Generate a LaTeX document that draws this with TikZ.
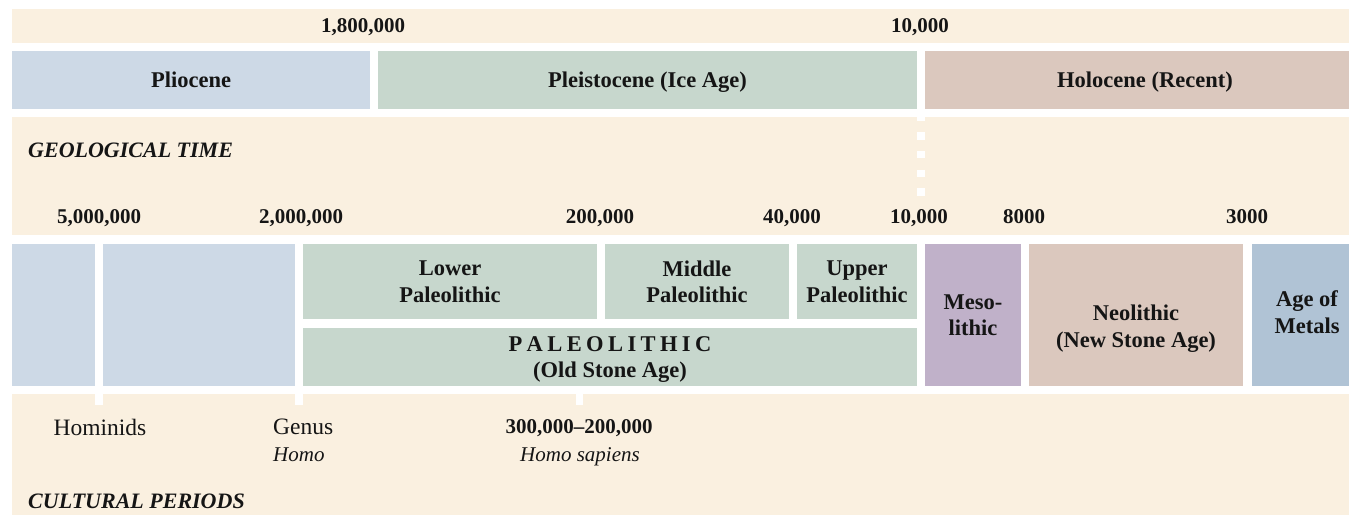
\documentclass[tikz,border=0pt]{standalone}
\usepackage{fontspec}
\setmainfont{Liberation Serif}
\definecolor{cream}{HTML}{FAF0E0}
\definecolor{pblue}{HTML}{CDD9E6}
\definecolor{pgreen}{HTML}{C7D7CD}
\definecolor{ppink}{HTML}{DBC8BE}
\definecolor{ppurple}{HTML}{C0B1C9}
\definecolor{psteel}{HTML}{B0C3D5}
\definecolor{ink}{HTML}{151515}
\newcommand\bx[7]{\node[boxst, fill=#6, minimum width={(#4-#2)*1pt}, minimum height={(#5-#3)*1pt}] (#1) at ({(#2+#4)/2},{(#3+#5)/2}) {#7};}
\newcommand\fnum{\fontsize{21}{26.5}\selectfont\bfseries}
\newcommand\fword{\fontsize{22.5}{26.5}\selectfont\bfseries}
\newcommand\fttl{\fontsize{22}{26.5}\selectfont\bfseries\itshape}
\newcommand\freg{\fontsize{23.5}{26.5}\selectfont}
\newcommand\fit{\fontsize{21}{26.5}\selectfont\itshape}
\newcommand\lsp{\hspace{4.4pt}}
\begin{document}
\begin{tikzpicture}[x=1pt,y=-1pt,
  every node/.style={text=ink, inner sep=0pt, text depth=0pt},
  boxst/.style={draw=none, align=center, font=\fword},
  num/.style={font=\fnum},
  lbl/.style={align=center, font=\fword},
  ttl/.style={anchor=west, font=\fttl}]
\useasboundingbox (0,0) rectangle (1349,515);
% bands
\bx{topband}{12}{9}{1349}{43}{cream}{}
\bx{geoband}{12}{117}{1349}{235}{cream}{}
\bx{botband}{12}{394}{1349}{515}{cream}{}
% geological epochs
\bx{plio}{12}{51}{370}{109}{pblue}{Pliocene}
\bx{pleist}{378}{51}{917}{109}{pgreen}{Pleistocene (Ice Age)}
\bx{holo}{925}{51}{1349}{109}{ppink}{}
\node[lbl] (holoT) at (1145,80) {Holocene (Recent)};
% dotted boundary
\coordinate (dA) at (921,113.5);
\coordinate (dB) at (921,196);
\draw[white, line width=8pt, dash pattern=on 7.5pt off 11.2pt] (dA) -- (dB);
% cultural periods
\bx{hom1}{12}{244}{95}{386}{pblue}{}
\bx{hom2}{103}{244}{295}{386}{pblue}{}
\bx{lower}{303}{244}{597}{319}{pgreen}{Lower\\Paleolithic}
\bx{middle}{605}{244}{789}{319}{pgreen}{Middle\\Paleolithic}
\bx{upper}{797}{244}{917}{319}{pgreen}{Upper\\Paleolithic}
\bx{paleo}{303}{328}{917}{386}{pgreen}{P\lsp A\lsp L\lsp E\lsp O\lsp L\lsp I\lsp T\lsp H\lsp I\lsp C\\(Old Stone Age)}
\bx{meso}{925}{244}{1021}{386}{ppurple}{Meso-\\lithic}
\bx{neo}{1029}{244}{1243}{386}{ppink}{}
\node[lbl] (neoT) at (1136,326) {Neolithic\\(New Stone Age)};
\bx{metals}{1252}{244}{1349}{386}{psteel}{}
\node[lbl] (metalsT) at (1307,312) {Age of\\Metals};
% ticks
\bx{t1}{95}{393}{103}{405}{white}{}
\bx{t2}{295}{393}{303}{405}{white}{}
\bx{t3}{576}{393}{583}{405}{white}{}
% numbers
\node[num] (n1) at (363,26) {1,800,000};
\node[num] (n2) at (920,26) {10,000};
\node[num] (m1) at (99,217) {5,000,000};
\node[num] (m2) at (301,217) {2,000,000};
\node[num] (m3) at (600,217) {200,000};
\node[num] (m4) at (792,217) {40,000};
\node[num] (m5) at (919,217) {10,000};
\node[num] (m6) at (1024,217) {8000};
\node[num] (m7) at (1247,217) {3000};
% titles
\node[ttl] (geo) at (28,150) {GEOLOGICAL TIME};
\node[ttl] (cult) at (28,501) {CULTURAL PERIODS};
% bottom labels
\node[font=\freg] (hominids) at (100,427) {Hominids};
\node[anchor=west, font=\freg] (genus) at (273,427) {Genus};
\node[anchor=west, font=\fit] (homo) at (273,455) {Homo};
\node[num] (hs1) at (579,427) {300,000--200,000};
\node[font=\fit] (hs2) at (580,455) {Homo sapiens};
\end{tikzpicture}
\end{document}
